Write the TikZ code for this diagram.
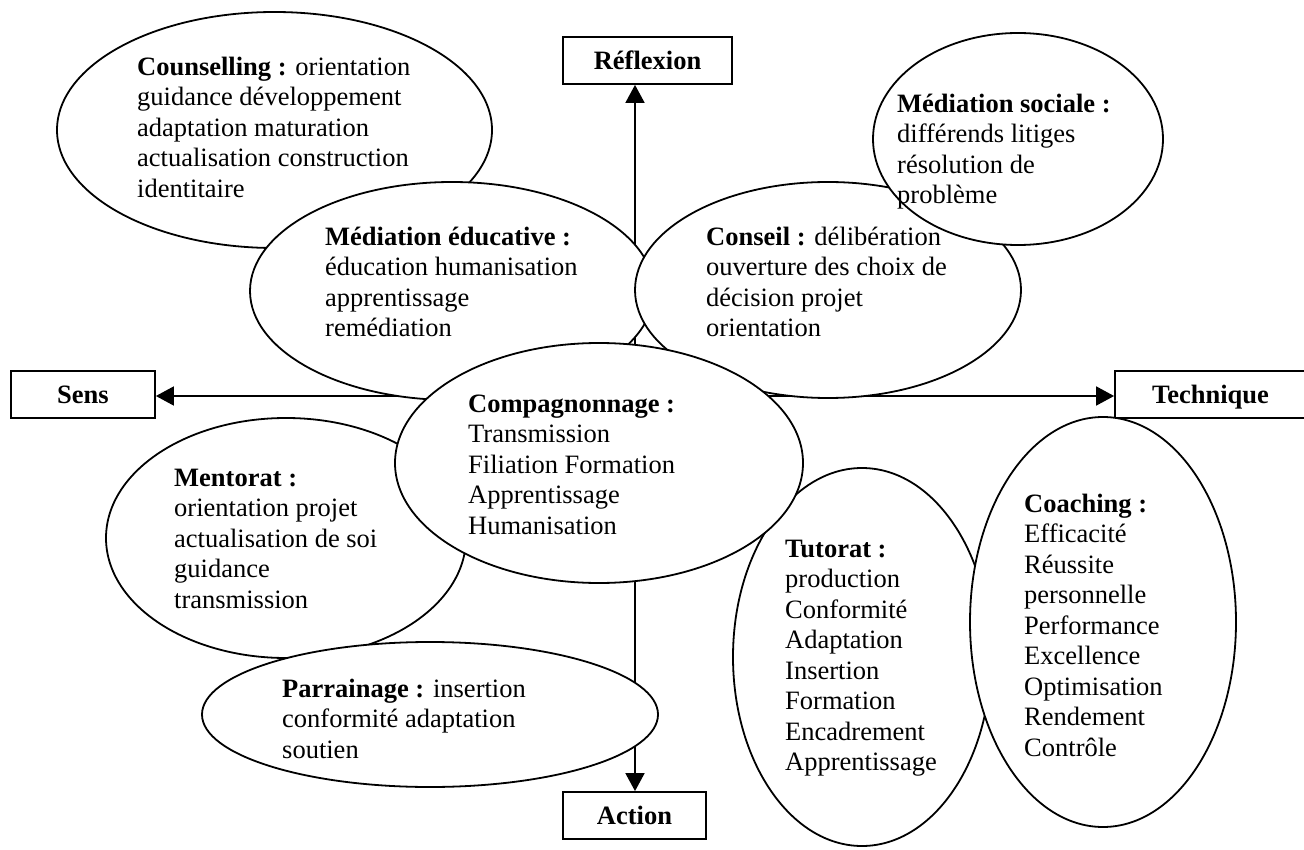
\documentclass[tikz,border=0pt]{standalone}
\usepackage{fontspec}
\setmainfont{Liberation Serif}
\usetikzlibrary{shapes.geometric,arrows.meta}
\begin{document}
\begin{tikzpicture}[x=1pt,y=-1pt,
  bubble/.style={ellipse,draw,fill=white,line width=1.8pt,inner sep=0pt},
  txt/.style={anchor=north west,align=left,inner sep=0pt,font=\fontsize{26.5}{30.5}\selectfont},
  axisbox/.style={draw,fill=white,line width=1.8pt,inner sep=0pt,minimum height=47pt,text height=17.5pt,text depth=0pt,font=\fontsize{26.5}{30.5}\selectfont\bfseries},
  axis/.style={line width=1.8pt,-{Triangle[length=18pt,width=19pt]}}]
\clip (0,0) rectangle (1304,850);
\fill[white] (0,0) rectangle (1304,850);
\newcommand{\fl}{\rule{0pt}{25pt}}
% axis boxes
\node[axisbox,minimum width=169pt] (refl) at (647.5,60.5) {Réflexion};
\node[axisbox,minimum width=144pt] (sens) at (83,394.5) {Sens};
\node[axisbox,minimum width=191pt] (tech) at (1210.5,394.5) {Technique};
\node[axisbox,minimum width=143pt] (act) at (634.5,815.5) {Action};
\coordinate (c) at (635,396);
\draw[axis] (c) -- (c |- refl.south);
\draw[axis] (c) -- (c |- act.north);
\draw[axis] (c) -- (c -| sens.east);
\draw[axis] (c) -- (c -| tech.west);
% ellipses
\node[bubble,minimum width=435pt,minimum height=236pt] (counsel) at (274.5,130) {};
\node[txt] (tcounsel) at (137,50) {\fl\textbf{Counselling :} orientation\\guidance développement\\adaptation maturation\\actualisation construction\\identitaire};
\node[bubble,minimum width=404pt,minimum height=218pt] (mededu) at (452,291) {};
\node[txt] (tmededu) at (325,220) {\fl\textbf{Médiation éducative :}\\éducation humanisation\\apprentissage\\remédiation};
\node[bubble,minimum width=386pt,minimum height=216pt] (conseil) at (828,290) {};
\node[bubble,minimum width=290pt,minimum height=212pt] (medsoc) at (1018,139) {};
\node[txt] (tconseil) at (706,220) {\fl\textbf{Conseil :} délibération\\ouverture des choix de\\décision projet\\orientation};
\node[txt] (tmedsoc) at (897,87) {\fl\textbf{Médiation sociale :}\\différends litiges\\résolution de\\problème};
\node[bubble,minimum width=360pt,minimum height=240pt] (mentor) at (286,538) {};
\node[txt] (tmentor) at (174,461) {\fl\textbf{Mentorat :}\\orientation projet\\actualisation de soi\\guidance\\transmission};
\node[bubble,minimum width=456pt,minimum height=145pt] (parrain) at (430,714.5) {};
\node[txt] (tparrain) at (282,672) {\fl\textbf{Parrainage :} insertion\\conformité adaptation\\soutien};
\node[bubble,minimum width=258pt,minimum height=378pt] (tutorat) at (862,657) {};
\node[txt] (ttutorat) at (785,532) {\fl\textbf{Tutorat :}\\production\\Conformité\\Adaptation\\Insertion\\Formation\\Encadrement\\Apprentissage};
\node[bubble,minimum width=408pt,minimum height=240pt] (compa) at (599,463) {};
\node[txt] (tcompa) at (468,387) {\fl\textbf{Compagnonnage :}\\Transmission\\Filiation Formation\\Apprentissage\\Humanisation};
\node[bubble,minimum width=266pt,minimum height=410pt] (coach) at (1103,622) {};
\node[txt] (tcoach) at (1024,487) {\fl\textbf{Coaching :}\\Efficacité\\Réussite\\personnelle\\Performance\\Excellence\\Optimisation\\Rendement\\Contrôle};
\end{tikzpicture}
\end{document}
